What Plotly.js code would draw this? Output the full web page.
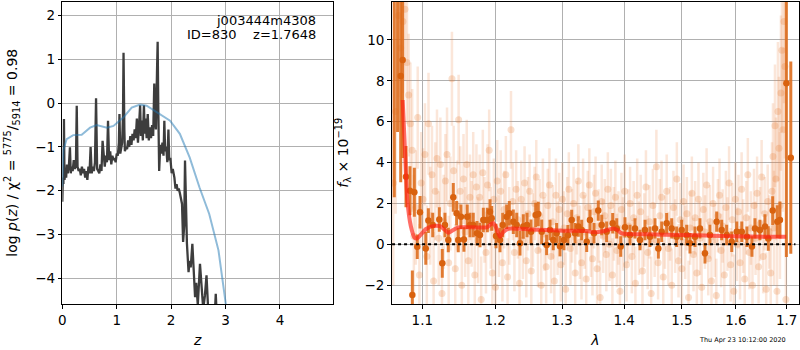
<!DOCTYPE html>
<html>
<head>
<meta charset="utf-8">
<script src="https://cdn.plot.ly/plotly-3.0.1.min.js"></script>
<style>html,body{margin:0;padding:0;background:#fff}#plot{width:800px;height:350px}</style>
</head>
<body>
<div id="plot"></div>
<script>
// ---- Left panel: log p(z) ----
const pzZ = [0.000,0.010,0.020,0.030,0.040,0.055,0.070,0.085,0.100,0.120,0.140,0.155,0.170,0.190,0.210,0.230,0.250,0.265,0.280,0.300,0.320,0.340,0.360,0.380,0.400,0.420,0.440,0.460,0.480,0.500,0.520,0.540,0.560,0.580,0.600,0.620,0.640,0.660,0.680,0.700,0.720,0.740,0.760,0.780,0.800,0.820,0.840,0.860,0.880,0.900,0.920,0.940,0.960,0.980,1.000,1.020,1.040,1.050,1.065,1.080,1.100,1.115,1.125,1.140,1.150,1.170,1.190,1.210,1.230,1.250,1.270,1.290,1.310,1.330,1.350,1.370,1.390,1.410,1.430,1.445,1.460,1.480,1.500,1.515,1.530,1.550,1.570,1.590,1.610,1.630,1.650,1.670,1.690,1.705,1.720,1.740,1.752,1.765,1.780,1.800,1.820,1.840,1.860,1.875,1.890,1.910,1.930,1.950,1.965,1.985,2.010,2.030,2.060,2.080,2.100,2.120,2.140,2.160,2.180,2.200,2.220,2.240,2.255,2.270,2.290,2.320,2.340,2.360,2.390,2.410,2.440,2.460,2.490,2.530,2.560,2.590,2.620,2.650,2.680,2.720,2.800,2.820,2.840];
const pzLog = [-2.25,-1.70,-1.85,-0.36,-1.75,-1.55,-1.70,-1.40,-1.60,-1.45,-1.01,-1.60,-1.45,-1.55,-1.30,-1.50,-1.40,-0.06,-1.45,-1.55,-1.50,-1.65,-1.45,-1.60,-1.50,-1.70,-1.55,-1.75,-1.45,-1.60,-1.00,-1.60,-1.45,-1.55,-1.35,0.11,-1.50,-1.55,-1.60,-1.40,-1.55,-0.86,-1.30,-1.45,-1.20,-1.35,-0.40,-1.30,-1.10,-1.40,-1.20,-1.30,-1.25,-1.35,-1.15,-1.20,-0.90,-0.25,-1.15,-1.05,-0.90,-0.30,1.15,-0.60,-1.10,-1.00,-1.05,-0.85,-1.00,-0.75,-0.95,-0.70,-0.85,-0.60,-0.80,-0.35,-0.90,-0.50,-0.05,-0.75,-0.40,-0.85,-0.05,-0.70,-0.35,-0.80,-0.25,-0.85,-0.55,-0.80,-0.50,-0.75,0.45,-0.40,-0.60,0.70,1.40,-0.20,-1.55,-0.95,-1.15,-0.90,-1.20,-0.40,-1.10,-1.00,-1.35,-0.60,-1.30,-1.25,-1.60,-1.50,-1.70,-1.95,-1.85,-2.00,-1.95,-2.05,-2.15,-2.30,-3.17,-2.80,-1.31,-2.50,-3.20,-3.86,-3.60,-3.75,-3.21,-3.70,-4.43,-4.10,-4.60,-3.67,-4.30,-4.70,-4.40,-3.93,-4.70,-5.00,-4.90,-4.35,-4.90];
const priorZ = [0.000,0.010,0.018,0.080,0.200,0.356,0.510,0.630,0.820,0.940,1.120,1.275,1.430,1.550,1.735,1.980,2.160,2.340,2.520,2.700,2.870,2.990,3.050];
const priorLog = [-1.90,-1.40,-1.08,-0.82,-0.73,-0.72,-0.56,-0.50,-0.56,-0.52,-0.33,-0.10,-0.03,-0.06,-0.21,-0.40,-0.70,-1.24,-1.92,-2.53,-3.36,-4.58,-5.00];
const zTicks = [0,1,2,3,4];
const pTicks = [-4,-3,-2,-1,0,1,2];

// ---- Right panel: spectrum ----
const modelLam = [1.0745,1.0775,1.0805,1.0850,1.0900,1.0935,1.0975,1.1050,1.1140,1.1235,1.1302,1.1347,1.1415,1.1483,1.1690,1.1880,1.1927,1.1975,1.2013,1.2070,1.2118,1.2190,1.2511,1.3020,1.3390,1.3494,1.3656,1.3820,1.3887,1.3960,1.4385,1.5000,1.5570,1.6210,1.6990];
const modelFlux = [7.06,4.60,2.17,0.90,0.32,0.29,0.45,0.75,0.89,0.89,0.70,0.57,0.70,0.83,0.83,0.83,0.95,1.05,0.83,0.37,0.60,0.76,0.73,0.67,0.65,0.59,0.64,0.78,0.70,0.54,0.49,0.46,0.42,0.38,0.37];

const binLam = [1.0638,1.0680,1.0720,1.0745,1.0788,1.0839,1.0870,1.0896,1.0934,1.0970,1.1046,1.1080,1.1138,1.1226,1.1266,1.1302,1.1347,1.1415,1.1461,1.1483,1.1520,1.1561,1.1607,1.1645,1.1691,1.1743,1.1785,1.1832,1.1889,1.1927,1.1951,1.2013,1.2070,1.2109,1.2167,1.2205,1.2264,1.2314,1.2362,1.2411,1.2466,1.2526,1.2596,1.2635,1.2687,1.2762,1.2813,1.2863,1.2915,1.2967,1.3029,1.3091,1.3150,1.3202,1.3254,1.3308,1.3388,1.3440,1.3505,1.3574,1.3630,1.3711,1.3810,1.3877,1.3943,1.4015,1.4098,1.4183,1.4268,1.4354,1.4439,1.4526,1.4584,1.4643,1.4730,1.4819,1.4907,1.4997,1.5086,1.5146,1.5237,1.5328,1.5420,1.5512,1.5637,1.5731,1.5825,1.5921,1.6017,1.6113,1.6212,1.6310,1.6369,1.6467,1.6566,1.6631,1.6719,1.6811,1.6865,1.6995,1.7085];
const binFlux = [13.0,14.0,8.24,9.02,3.31,2.62,-2.48,2.55,-0.12,1.57,-0.20,1.16,0.95,1.22,-0.93,0.95,0.21,2.30,1.52,0.21,1.35,0.24,1.35,0.95,0.95,0.54,0.46,1.19,1.19,1.60,1.27,0.41,0.21,0.95,1.35,1.52,1.11,0.95,0.05,0.87,0.95,0.62,1.43,1.48,0.62,-0.03,0.70,0.21,0.54,-0.09,0.21,0.45,1.19,0.54,0.87,0.70,0.13,1.19,0.54,1.65,0.95,0.62,1.03,0.78,-0.11,0.83,0.46,0.78,0.21,0.70,0.37,0.78,-0.20,0.62,1.03,0.78,0.37,0.70,0.46,0.05,0.37,0.78,-0.44,0.46,1.11,0.70,0.46,0.13,0.62,0.62,0.37,-0.11,0.78,0.70,0.87,0.29,1.65,1.11,1.19,7.88,4.24];
const binErr = [10.7,8.5,5.2,4.8,1.5,1.2,1.2,1.2,0.6,0.8,0.8,0.6,0.6,0.6,0.7,0.6,0.6,0.7,0.6,0.6,0.6,0.6,0.6,0.6,0.6,0.6,0.6,0.6,0.6,0.6,0.6,0.6,0.6,0.6,0.6,0.6,0.6,0.6,0.6,0.6,0.6,0.6,0.6,0.6,0.6,0.5,0.5,0.5,0.5,0.5,0.5,0.5,0.5,0.5,0.5,0.5,0.5,0.5,0.5,0.5,0.5,0.5,0.5,0.5,0.5,0.5,0.5,0.5,0.5,0.5,0.5,0.5,0.5,0.5,0.5,0.5,0.5,0.5,0.5,0.5,0.5,0.5,0.5,0.5,0.5,0.5,0.5,0.5,0.5,0.5,0.5,0.5,0.5,0.5,0.6,0.6,0.7,0.8,0.9,8.5,4.7];

const rawLam = [1.0625,1.0655,1.0690,1.0720,1.0748,1.0775,1.0800,1.0822,1.0845,1.0868,1.0890,1.0915,1.0940,1.0962,1.0985,
1.1010,1.1035,1.1060,1.1082,1.1105,1.1128,1.1150,1.1172,1.1195,1.1218,1.1240,1.1262,1.1285,1.1308,1.1330,1.1352,1.1375,1.1397,1.1420,1.1442,1.1465,1.1488,1.1510,1.1532,1.1555,1.1578,1.1600,1.1622,1.1645,1.1668,1.1690,1.1712,1.1735,1.1758,1.1780,1.1802,1.1825,1.1848,1.1870,1.1892,1.1915,1.1938,1.1960,1.1982,
1.2005,1.2030,1.2055,1.2080,1.2105,1.2130,1.2155,1.2180,1.2205,1.2230,1.2255,1.2280,1.2305,1.2330,1.2355,1.2380,1.2405,1.2430,1.2455,1.2480,1.2505,1.2530,1.2555,1.2580,1.2605,1.2630,1.2655,1.2680,1.2705,1.2730,1.2755,1.2780,1.2805,1.2830,1.2855,1.2880,1.2905,1.2930,1.2955,1.2980,1.3005,1.3030,1.3055,1.3080,1.3105,1.3130,1.3155,1.3180,1.3205,1.3230,1.3255,1.3280,1.3305,1.3330,1.3355,1.3380,1.3405,1.3430,1.3455,1.3480,1.3505,1.3530,1.3555,1.3580,1.3605,1.3630,1.3655,1.3680,1.3705,1.3730,1.3755,1.3780,1.3805,1.3830,1.3855,1.3880,1.3905,1.3930,1.3955,1.3980,
1.4010,1.4040,1.4070,1.4100,1.4130,1.4160,1.4190,1.4220,1.4250,1.4280,1.4310,1.4340,1.4370,1.4400,1.4430,1.4460,1.4490,1.4520,1.4550,1.4580,1.4610,1.4640,1.4670,1.4700,1.4730,1.4760,1.4790,1.4820,1.4850,1.4880,1.4910,1.4940,1.4970,1.5000,1.5030,1.5060,1.5090,1.5120,1.5150,1.5180,1.5210,1.5240,1.5270,1.5300,1.5330,1.5360,1.5390,1.5420,1.5450,1.5480,1.5510,1.5540,1.5570,1.5600,1.5630,1.5660,1.5690,1.5720,1.5750,1.5780,1.5810,1.5840,1.5870,1.5900,1.5930,1.5960,1.5990,1.6020,1.6050,1.6080,1.6110,1.6140,1.6170,1.6200,1.6230,1.6260,1.6290,1.6320,1.6350,1.6380,1.6410,1.6440,1.6470,1.6500,1.6530,1.6560,1.6590,1.6620,1.6650,
1.6680,1.6705,1.6725,1.6745,1.6765,1.6785,1.6805,1.6825,1.6845,1.6865,1.6885,1.6905,1.6925,1.6945,1.6965,1.6985];
const rawFlux = [3.0,6.5,11.2,9.6,10.9,11.5,8.9,7.3,5.9,4.6,0.4,1.8,6.2,-1.5,3.0,
2.2,4.4,-0.6,5.9,1.4,3.4,-1.8,2.6,4.2,0.3,3.9,-2.4,1.1,3.1,4.4,-0.9,2.0,8.1,3.6,-1.2,1.9,6.1,2.6,-2.0,3.2,0.6,3.9,-0.8,2.3,1.0,3.4,-1.5,2.8,0.2,2.3,-2.7,3.5,1.2,-0.4,2.9,4.6,0.8,-1.4,2.2,
-2.1,3.1,0.4,2.6,-0.9,1.7,3.4,-1.6,0.9,5.6,2.1,-0.4,2.7,1.2,-1.9,2.2,0.2,3.0,-0.8,1.5,2.6,-1.3,0.7,2.0,3.3,-0.3,1.4,-2.0,2.4,0.5,-1.1,1.9,2.9,-0.6,1.1,-1.8,2.4,0.3,1.7,-1.0,2.2,0.8,-2.2,1.5,2.7,-0.2,0.9,2.0,-1.4,1.3,3.1,0.1,-0.9,2.4,0.6,-1.7,1.8,2.9,0.2,-0.7,1.6,2.5,-1.2,0.9,-2.6,2.1,0.4,1.4,-0.5,2.7,0.0,1.9,-1.5,1.0,2.3,-0.3,0.8,-2.3,1.7,0.5,
2.6,-1.0,0.9,2.0,-0.6,1.3,-1.9,2.4,0.3,1.6,-1.3,0.7,2.8,-0.4,1.1,-2.4,1.9,0.2,3.8,-0.9,1.4,2.3,-1.6,0.6,2.6,-0.2,1.0,-2.0,1.8,0.4,3.2,-0.8,1.2,-1.2,2.1,0.1,1.5,-2.6,0.8,2.5,-0.5,1.3,-1.4,2.2,0.3,-2.1,1.7,0.6,2.9,-0.7,1.1,-1.8,2.0,0.2,-2.5,1.4,2.4,-0.3,0.9,-1.5,1.8,0.5,3.0,-1.0,1.2,-2.3,2.2,0.0,1.6,-0.9,2.7,0.4,-1.7,1.3,3.4,-0.4,0.8,-2.0,1.9,0.3,2.5,-1.1,1.0,3.3,-0.6,1.5,-2.2,2.1,0.6,
-1.4,2.6,4.3,0.8,5.8,3.2,-2.3,6.5,4.7,1.9,7.4,9.5,5.6,10.9,8.7,-2.7];
const rawErr = [5,5,4,4,3.5,3.5,3,3,3,3,3,2.8,2.5,2.5,2.5,
2.5,2.5,2.5,2.5,2.4,2.4,2.4,2.4,2.4,2.3,2.3,2.3,2.3,2.3,2.3,2.3,2.3,2.3,2.2,2.2,2.2,2.2,2.2,2.2,2.2,2.2,2.2,2.2,2.1,2.1,2.1,2.1,2.1,2.1,2.1,2.1,2.1,2.1,2.0,2.0,2.0,2.0,2.0,2.0,
2.0,2.0,2.0,2.0,1.9,1.9,1.9,1.9,1.9,1.9,1.9,1.9,1.9,1.9,1.9,1.9,1.9,1.8,1.8,1.8,1.8,1.8,1.8,1.8,1.8,1.8,1.8,1.8,1.8,1.8,1.8,1.8,1.8,1.8,1.8,1.8,1.8,1.8,1.8,1.8,1.8,1.8,1.8,1.8,1.8,1.8,1.8,1.8,1.8,1.8,1.8,1.8,1.8,1.8,1.8,1.8,1.8,1.8,1.8,1.8,1.8,1.8,1.8,1.8,1.8,1.8,1.8,1.8,1.8,1.8,1.8,1.8,1.8,1.8,1.8,1.8,1.8,1.8,1.8,1.8,
1.8,1.8,1.8,1.8,1.8,1.8,1.8,1.8,1.8,1.8,1.8,1.8,1.8,1.8,1.8,1.8,1.8,1.8,1.8,1.8,1.8,1.8,1.8,1.8,1.8,1.8,1.8,1.8,1.8,1.8,1.8,1.8,1.8,1.8,1.8,1.8,1.8,1.8,1.8,1.8,1.8,1.8,1.8,1.8,1.8,1.8,1.8,1.8,1.8,1.8,1.8,1.8,1.8,1.8,1.8,1.8,1.8,1.8,1.8,1.8,1.8,1.8,1.8,1.8,1.8,1.8,1.8,1.8,1.8,1.8,1.8,1.8,1.8,1.8,1.8,1.8,1.8,1.8,1.8,1.8,1.8,1.8,1.8,1.8,1.8,1.8,1.8,1.8,1.8,
2.2,2.4,2.6,2.8,3,3,3.2,3.4,3.5,3.6,3.8,4,4,4,4.5,4.5];
const zeroLam = [1.061, 1.718];
const zeroFlux = [0, 0];
const lamTicks = [1.1,1.2,1.3,1.4,1.5,1.6,1.7];
const lamTickText = ['1.1','1.2','1.3','1.4','1.5','1.6','1.7'];
const fTicks = [-2,0,2,4,6,8,10];

const FONT = 'DejaVu Sans, sans-serif';
const traces = [
  {x: pzZ, y: pzLog, xaxis:'x', yaxis:'y', mode:'lines', line:{color:'#3d3d3d', width:2.3}, hoverinfo:'skip', showlegend:false},
  {x: priorZ, y: priorLog, xaxis:'x', yaxis:'y', mode:'lines', line:{color:'rgba(31,119,180,0.5)', width:2}, hoverinfo:'skip', showlegend:false},
  {x: rawLam, y: rawFlux, xaxis:'x2', yaxis:'y2', mode:'markers',
   marker:{color:'rgba(228,120,45,0.24)', size:7, line:{width:0}},
   error_y:{type:'data', array: rawErr, visible:true, color:'rgba(234,132,66,0.2)', thickness:2.5, width:0},
   showlegend:false},
  {x: binLam, y: binFlux, xaxis:'x2', yaxis:'y2', mode:'markers',
   marker:{color:'#d9620f', size:6.5, line:{width:0}},
   error_y:{type:'data', array: binErr, visible:true, color:'rgba(222,110,30,0.9)', thickness:3, width:0},
   showlegend:false},
  {x: modelLam, y: modelFlux, xaxis:'x2', yaxis:'y2', mode:'lines', line:{color:'rgba(255,30,20,0.65)', width:4, shape:'spline', smoothing:0.6}, showlegend:false},
  {x: zeroLam, y: zeroFlux, xaxis:'x2', yaxis:'y2', mode:'lines', line:{color:'#000', width:2, dash:'dot'}, showlegend:false}
];

const axBase = {showline:true, linecolor:'#000', linewidth:1, mirror:true, ticks:'outside', ticklen:3.5, tickwidth:1, tickcolor:'#000',
  showgrid:true, gridcolor:'#b0b0b0', gridwidth:1, zeroline:false, tickfont:{family:FONT, size:13.5, color:'#000'}};

const layout = {
  width:800, height:350, margin:{l:0, r:0, t:0, b:0}, paper_bgcolor:'#fff', plot_bgcolor:'#fff',
  font:{family:FONT, color:'#000'},
  xaxis: Object.assign({}, axBase, {domain:[0.0779, 0.4166], range:[0, 4.98], tickvals:zTicks, anchor:'y',
    title:{text:'<i>z</i>', font:{family:FONT, size:14}, standoff:8}}),
  yaxis: Object.assign({}, axBase, {domain:[0.1314, 0.9957], range:[-4.585, 2.32], tickvals:pTicks, anchor:'x',
    title:{text:'log <i>p</i>(<i>z</i>) / χ<sup>2</sup> = <sup>5775</sup>/<sub>5914</sub> = 0.98', font:{family:FONT, size:14}, standoff:14}}),
  xaxis2: Object.assign({}, axBase, {domain:[0.4896, 0.9991], type:'log', range:[Math.log10(1.0605), Math.log10(1.7259)],
    tickvals:lamTicks, ticktext:lamTickText, anchor:'y2',
    title:{text:'<i>λ</i>', font:{family:FONT, size:14}, standoff:8}}),
  yaxis2: Object.assign({}, axBase, {domain:[0.1314, 0.9957], range:[-2.92, 11.88], tickvals:fTicks, anchor:'x2',
    title:{text:'<i>f</i><sub>λ</sub> × 10<sup>−19</sup>', font:{family:FONT, size:14}, standoff:12}}),
  annotations:[
    {xref:'paper', yref:'paper', x:318/800, y:1-20/350, xanchor:'right', yanchor:'middle', showarrow:false,
     text:'j003444m4308', font:{family:FONT, size:13, color:'#000'}},
    {xref:'paper', yref:'paper', x:318/800, y:1-34.5/350, xanchor:'right', yanchor:'middle', showarrow:false,
     text:'ID=830    z=1.7648', font:{family:FONT, size:13, color:'#000'}},
    {xref:'paper', yref:'paper', x:742/800, y:1-339.5/350, xanchor:'center', yanchor:'middle', showarrow:false,
     text:'Thu Apr 23 10:12:00 2020', font:{family:FONT, size:6.5, color:'#000'}}
  ]
};

Plotly.newPlot('plot', traces, layout, {staticPlot:true, displayModeBar:false});
</script>
</body>
</html>
